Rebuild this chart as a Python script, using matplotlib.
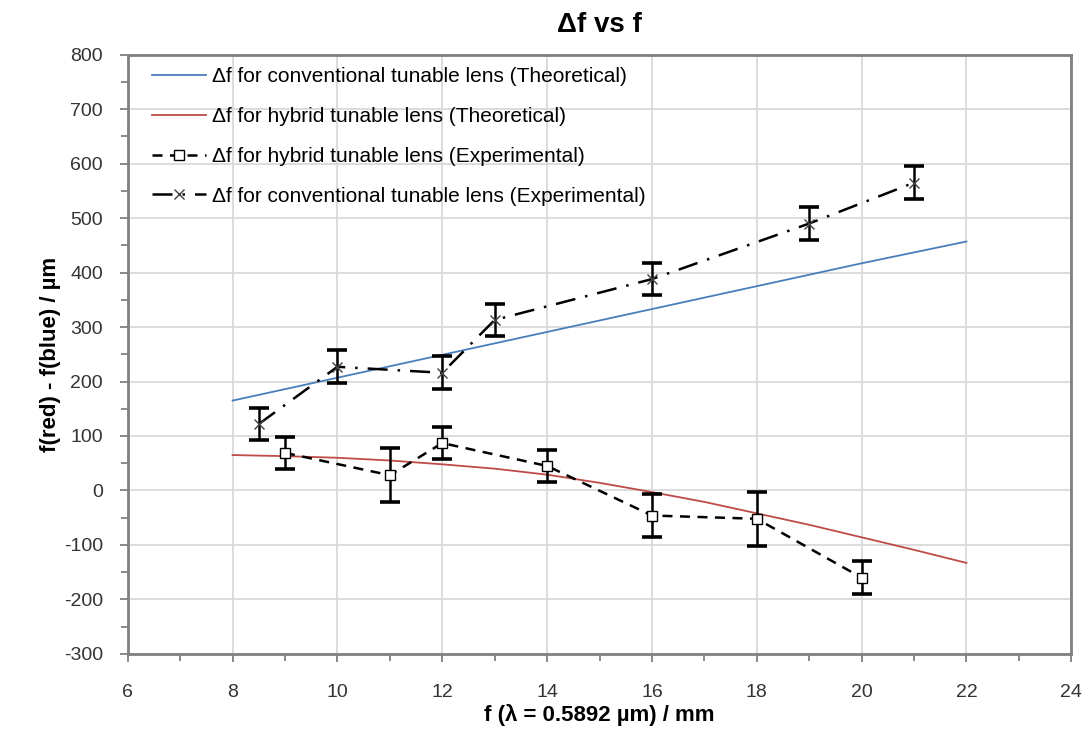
import numpy as np
from matplotlib import pyplot as plt
from matplotlib.ticker import MultipleLocator

plt.rcParams['font.family'] = ['Liberation Sans', 'DejaVu Sans']
plt.rcParams['axes.unicode_minus'] = False

# theoretical curves
f_theo = [8, 10, 12, 14, 16, 18, 20, 22]
conv_theo = [165, 207, 249, 291, 333, 375, 417, 457]
f_hyb_theo = [8, 9, 10, 11, 12, 13, 14, 15, 16, 17, 18, 19, 20, 21, 22]
hyb_theo = [65, 63, 60, 55, 48, 40, 29, 14, -3, -21, -42, -63, -86, -109, -133]

# experimental data
f_hyb = [9, 11, 12, 14, 16, 18, 20]
hyb_exp = [69, 28, 87, 45, -46, -52, -160]
hyb_err = [30, 50, 30, 30, 40, 50, 30]

f_conv = [8.5, 10, 12, 13, 16, 19, 21]
conv_exp = [122, 227, 216, 313, 388, 490, 565]
conv_err = [30, 30, 30, 30, 30, 30, 30]

fig = plt.figure(figsize=(10.92, 7.49), dpi=100)
ax = fig.add_axes([0.117, 0.127, 0.864, 0.8])

ax.plot(f_theo, conv_theo, '-', color='#4a7ebb', lw=1.3,
        label='Δf for conventional tunable lens (Theoretical)')
ax.plot(f_hyb_theo, hyb_theo, '-', color='#be4b48', lw=1.3,
        label='Δf for hybrid tunable lens (Theoretical)')

# error bars first, then the lines with markers (legend only uses the lines)
ax.errorbar(f_hyb, hyb_exp, yerr=hyb_err, fmt='none', ecolor='black',
            elinewidth=1.8, capsize=7, capthick=2.6)
ax.errorbar(f_conv, conv_exp, yerr=conv_err, fmt='none', ecolor='black',
            elinewidth=1.8, capsize=7, capthick=2.6)
ax.plot(f_hyb, hyb_exp, 's--', color='black', mfc='white', ms=7, mew=1,
        lw=1.8, dashes=(4, 3), label='Δf for hybrid tunable lens (Experimental)')
ax.plot(f_conv, conv_exp, 'x-.', color='black', mec='#404040', ms=7, mew=1,
        lw=1.8, dashes=(8, 4, 1, 4), label='Δf for conventional tunable lens (Experimental)')

ax.set_xlim(6, 24)
ax.set_ylim(-300, 800)
ax.xaxis.set_major_locator(MultipleLocator(2))
ax.xaxis.set_minor_locator(MultipleLocator(1))
ax.yaxis.set_major_locator(MultipleLocator(100))
ax.yaxis.set_minor_locator(MultipleLocator(50))
ax.grid(True, which='major', color='#d9d9d9', lw=1.3)
ax.set_axisbelow(True)
for sp in ax.spines.values():
    sp.set_color('#808080')
    sp.set_linewidth(2)
ax.tick_params(axis='both', which='both', direction='out', color='#808080',
               labelsize=14, labelcolor='#333333')
ax.tick_params(which='major', length=6, width=1.3)
ax.tick_params(which='minor', length=5, width=1.3)
ax.tick_params(axis='x', pad=16)
ax.tick_params(axis='y', pad=12)

ax.set_title('Δf vs f', fontsize=20, fontweight='bold', pad=16)
ax.set_xlabel('f (λ = 0.5892 µm) / mm', fontsize=16, fontweight='bold', labelpad=2)
ax.set_ylabel('f(red) - f(blue) / µm', fontsize=16, fontweight='bold', labelpad=2)

ax.legend(loc='upper left', bbox_to_anchor=(0.012, 1.0), frameon=False, fontsize=15,
          handlelength=2.6, labelspacing=1.0, handletextpad=0.3, borderaxespad=0.2)

plt.savefig('out.png', dpi=100)
